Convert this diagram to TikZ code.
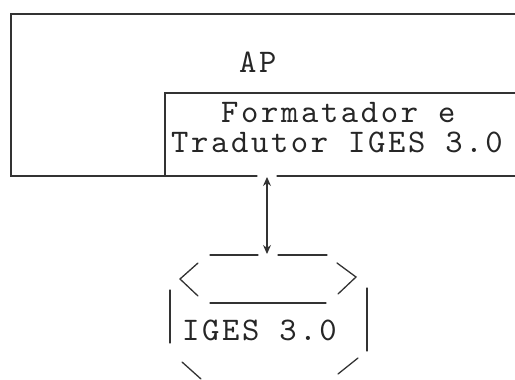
\documentclass[tikz,border=0pt]{standalone}
\usepackage{fontspec}
\newfontfamily\tw{lmmono10-regular.otf}[LetterSpace=8.0]
\usetikzlibrary{arrows.meta}
\tikzset{
  ln/.style={line width=1.3pt, draw=black!80, line cap=round},
  txt/.style={font={\tw\fontsize{33}{36}\selectfont}, text=black!85, inner sep=0pt, anchor=base west},
  arr/.style={ln, {Stealth[length=9pt,width=8pt]}-{Stealth[length=9pt,width=8pt]}}
}
\begin{document}
\begin{tikzpicture}[x=1pt,y=-1pt]
\useasboundingbox (0,0) rectangle (515,380);
\clip (0,0) rectangle (515,380);
% outer box AP (extends beyond right edge)
\draw[ln] (257,176) -- (11,176) -- (11,14) -- (535,14);
\draw[ln] (277,176) -- (535,176);
% inner box
\draw[ln] (165,176) -- (165,93) -- (535,93);
% texts
\node[txt] (ap) at (239,72) {AP};
\node[txt] (fmt) at (221,122) {Formatador e};
\node[txt] (trd) at (171,152) {Tradutor IGES 3.0};
% arrow
\coordinate (arrT) at (267,177);
\coordinate (arrB) at (267,254);
\draw[arr] (arrT) -- (arrB);
% storage symbol
\draw[ln] (210,255) -- (258,255);
\draw[ln] (278,255) -- (327,255);
\draw[ln] (210,303) -- (326,303);
\draw[ln] (198,263) -- (180,279) -- (198,296);
\draw[ln] (337,263) -- (356,277) -- (338,294);
\draw[ln] (170,290) -- (170,343);
\draw[ln] (367,288) -- (367,351);
\draw[ln] (182,362) -- (201,379);
\draw[ln] (358,358) -- (338,374);
\node[txt] (iges) at (182,340) {IGES 3.0};
\end{tikzpicture}
\end{document}
